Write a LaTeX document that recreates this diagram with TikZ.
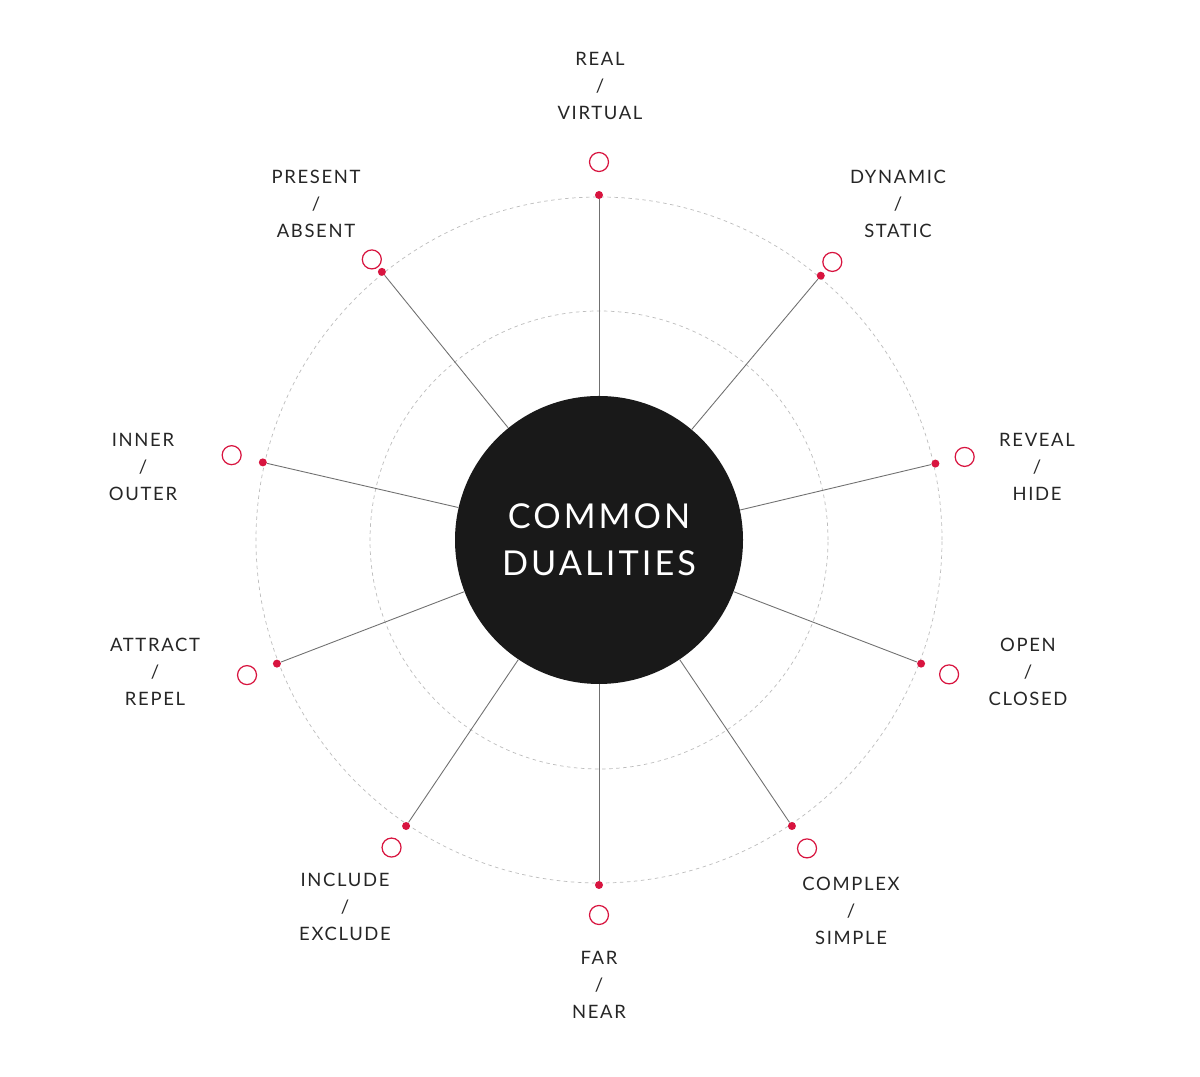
\documentclass[tikz,border=0pt]{standalone}
\usepackage{fontspec}
\newfontfamily\lblfont[LetterSpace=9]{Lato}
\usetikzlibrary{calc}
\definecolor{dotred}{HTML}{D8143F}
\definecolor{spokegray}{HTML}{707070}
\definecolor{ringgray}{HTML}{BDBDBD}
\newcommand{\dsep}{/}
\tikzset{
    spoke/.style={draw=spokegray, line width=0.5pt},
    ring/.style={draw=ringgray, dashed, dash pattern=on 2pt off 2pt, line width=0.4pt},
    dotmark/.style={circle, fill=dotred, inner sep=0pt, minimum size=8\unitpx},
    openmark/.style={circle, draw=dotred, fill=white, line width=0.7pt, inner sep=0pt, minimum size=19\unitpx},
    duallabel/.style={align=center, font=\lblfont\fontsize{10.5}{15.5}\selectfont, text=black!85}
}
\newcommand{\unitpx}{*0.02cm}
\begin{document}
\begin{tikzpicture}[x=0.02cm, y=0.02cm]
\useasboundingbox[fill=white] (0,0) rectangle (1200,1077);

\begin{scope}[shift={(599,537)}]
    % dashed rings
    \draw[ring] (0,0) circle (343);
    \draw[ring] (0,0) circle (229);

    % hub
    \node[circle, fill=black!90, minimum size=288\unitpx, inner sep=0pt,
          align=center, text=white, font=\lblfont\fontsize{19.5}{26.5}\selectfont] (hub) at (0,0)
          {COMMON\\DUALITIES};

    % spokes, marks and labels
    \foreach \ang/\rr/\lx/\ly/\top/\bot [count=\i] in {
        90/378/1/454/REAL/VIRTUAL,
        50/363/299/336/DYNAMIC/STATIC,
        12.8/375/438/73/REVEAL/HIDE,
        -21/375/429/-132/OPEN/CLOSED,
        -56/372/252/-371/COMPLEX/SIMPLE,
        -90/375/0/-445/FAR/NEAR,
        -124/371/-254/-367/INCLUDE/EXCLUDE,
        -159/377/-444/-132/ATTRACT/REPEL,
        167/377/-456/73/INNER/OUTER,
        129/361/-283/336/PRESENT/ABSENT} {
        \node[dotmark] (dot\i) at (\ang:345) {};
        \node[openmark] (ring\i) at (\ang:\rr) {};
        \draw[spoke] (hub.\ang) -- (dot\i);
        \node[duallabel] (lab\i) at (\lx,\ly) {\top\\\dsep\\\bot};
    }
\end{scope}

\end{tikzpicture}
\end{document}
